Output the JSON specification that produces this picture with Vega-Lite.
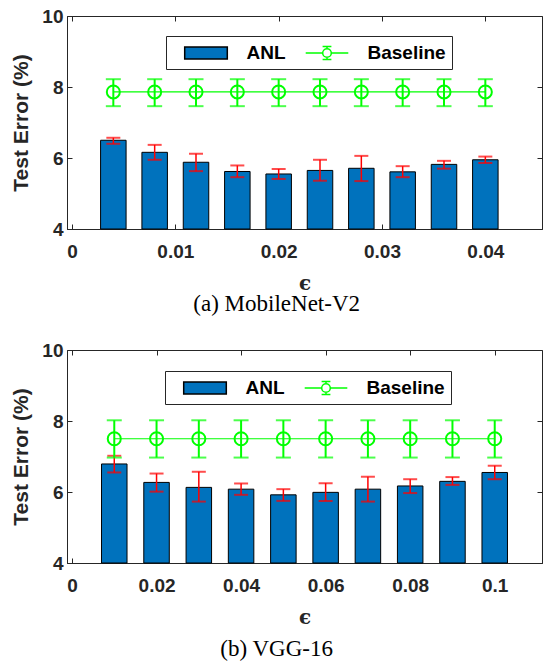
{
  "$schema": "https://vega.github.io/schema/vega-lite/v6.json",
  "padding": {"top": 6, "left": 10, "right": 0, "bottom": 0},
  "spacing": 23,
  "resolve": {"scale": {"fill": "independent", "stroke": "independent", "shape": "independent"}, "legend": {"fill": "independent", "stroke": "independent", "shape": "independent"}},
  "config": {
    "view": {"stroke": "#262626", "strokeWidth": 1},
    "axis": {"grid": false, "labelFont": "Liberation Sans", "labelFontWeight": "bold", "labelFontSize": 19, "labelColor": "#262626", "domainColor": "#262626", "tickColor": "#262626", "titleFont": "Liberation Sans", "titleFontWeight": "bold", "titleFontSize": 21, "titleColor": "#262626", "labelFlush": false, "labelOverlap": false},
    "legend": {"title": null, "orient": "none", "direction": "horizontal", "strokeColor": "#262626", "fillColor": "#FFFFFF", "padding": 6, "symbolSize": 400, "symbolOffset": 23, "labelOffset": 29.5, "columnPadding": 7, "symbolStrokeWidth": 1.5, "symbolOpacity": 1, "labelFont": "Liberation Sans", "labelFontWeight": "bold", "labelFontSize": 19, "labelColor": "#000000"},
    "title": {"font": "Liberation Serif", "fontSize": 23, "fontWeight": "normal", "color": "#000000", "orient": "bottom", "anchor": "middle", "frame": "bounds"}
  },
  "datasets": {
    "mobilenet": [
      {"eps": 0.004, "anl": 6.50, "anl_lo": 6.40, "anl_hi": 6.57, "base": 7.86, "base_lo": 7.46, "base_hi": 8.22, "series": "ANL"},
      {"eps": 0.008, "anl": 6.16, "anl_lo": 5.95, "anl_hi": 6.37, "base": 7.86, "base_lo": 7.46, "base_hi": 8.22, "series": "ANL"},
      {"eps": 0.012, "anl": 5.88, "anl_lo": 5.63, "anl_hi": 6.12, "base": 7.86, "base_lo": 7.46, "base_hi": 8.22, "series": "ANL"},
      {"eps": 0.016, "anl": 5.62, "anl_lo": 5.46, "anl_hi": 5.79, "base": 7.86, "base_lo": 7.46, "base_hi": 8.22, "series": "ANL"},
      {"eps": 0.020, "anl": 5.55, "anl_lo": 5.41, "anl_hi": 5.69, "base": 7.86, "base_lo": 7.46, "base_hi": 8.22, "series": "ANL"},
      {"eps": 0.024, "anl": 5.65, "anl_lo": 5.36, "anl_hi": 5.95, "base": 7.86, "base_lo": 7.46, "base_hi": 8.22, "series": "ANL"},
      {"eps": 0.028, "anl": 5.71, "anl_lo": 5.35, "anl_hi": 6.06, "base": 7.86, "base_lo": 7.46, "base_hi": 8.22, "series": "ANL"},
      {"eps": 0.032, "anl": 5.61, "anl_lo": 5.46, "anl_hi": 5.77, "base": 7.86, "base_lo": 7.46, "base_hi": 8.22, "series": "ANL"},
      {"eps": 0.036, "anl": 5.82, "anl_lo": 5.70, "anl_hi": 5.92, "base": 7.86, "base_lo": 7.46, "base_hi": 8.22, "series": "ANL"},
      {"eps": 0.040, "anl": 5.95, "anl_lo": 5.86, "anl_hi": 6.04, "base": 7.86, "base_lo": 7.46, "base_hi": 8.22, "series": "ANL"}
    ],
    "vgg": [
      {"eps": 0.01, "anl": 6.79, "anl_lo": 6.55, "anl_hi": 7.02, "base": 7.50, "base_lo": 6.97, "base_hi": 8.02, "series": "ANL"},
      {"eps": 0.02, "anl": 6.27, "anl_lo": 6.01, "anl_hi": 6.52, "base": 7.50, "base_lo": 6.97, "base_hi": 8.02, "series": "ANL"},
      {"eps": 0.03, "anl": 6.13, "anl_lo": 5.73, "anl_hi": 6.57, "base": 7.50, "base_lo": 6.97, "base_hi": 8.02, "series": "ANL"},
      {"eps": 0.04, "anl": 6.08, "anl_lo": 5.92, "anl_hi": 6.24, "base": 7.50, "base_lo": 6.97, "base_hi": 8.02, "series": "ANL"},
      {"eps": 0.05, "anl": 5.92, "anl_lo": 5.75, "anl_hi": 6.08, "base": 7.50, "base_lo": 6.97, "base_hi": 8.02, "series": "ANL"},
      {"eps": 0.06, "anl": 5.99, "anl_lo": 5.75, "anl_hi": 6.25, "base": 7.50, "base_lo": 6.97, "base_hi": 8.02, "series": "ANL"},
      {"eps": 0.07, "anl": 6.08, "anl_lo": 5.73, "anl_hi": 6.43, "base": 7.50, "base_lo": 6.97, "base_hi": 8.02, "series": "ANL"},
      {"eps": 0.08, "anl": 6.17, "anl_lo": 5.97, "anl_hi": 6.36, "base": 7.50, "base_lo": 6.97, "base_hi": 8.02, "series": "ANL"},
      {"eps": 0.09, "anl": 6.30, "anl_lo": 6.20, "anl_hi": 6.42, "base": 7.50, "base_lo": 6.97, "base_hi": 8.02, "series": "ANL"},
      {"eps": 0.10, "anl": 6.55, "anl_lo": 6.36, "anl_hi": 6.74, "base": 7.50, "base_lo": 6.97, "base_hi": 8.02, "series": "ANL"}
    ]
  },
  "vconcat": [
    {
      "width": 475, "height": 213,
      "data": {"name": "mobilenet"},
      "title": {"text": "(a)  MobileNet-V2", "offset": 0},
      "resolve": {"axis": {"x": "independent", "y": "independent"}},
      "layer": [
        {
          "mark": {"type": "bar", "size": 25.5, "strokeWidth": 1, "opacity": 1},
          "encoding": {
            "x": {"field": "eps", "type": "quantitative", "scale": {"domain": [0, 0.045], "nice": false, "zero": false},
                  "axis": {"orient": "bottom", "values": [0, 0.01, 0.02, 0.03, 0.04], "format": "~g", "tickSize": -5, "labelPadding": 18, "title": "ϵ", "titleFont": "DejaVu Serif", "titleFontSize": 20, "titlePadding": 12}},
            "y": {"field": "anl", "type": "quantitative", "scale": {"domain": [4, 10], "nice": false, "zero": false},
                  "axis": {"orient": "left", "values": [4, 6, 8, 10], "tickSize": -5, "labelPadding": 9, "title": "Test Error (%)", "titlePadding": 10}},
            "y2": {"datum": 4},
            "fill": {"field": "series", "type": "nominal", "scale": {"domain": ["ANL", "Baseline"], "range": ["#0072BD", "transparent"]}, "legend": {"legendX": 99, "legendY": 20}},
            "stroke": {"field": "series", "type": "nominal", "scale": {"domain": ["ANL", "Baseline"], "range": ["#000000", "#00FF00"]}, "legend": {"legendX": 99, "legendY": 20}}
          }
        },
        {
          "mark": {"type": "point", "opacity": 0},
          "encoding": {
            "x": {"field": "eps", "type": "quantitative", "axis": null},
            "y": {"field": "anl", "type": "quantitative", "axis": null},
            "shape": {"field": "series", "type": "nominal", "scale": {"domain": ["ANL", "Baseline"], "range": ["M-2.13,-0.6H2.13V0.6H-2.13Z", "M-2.13,0H-0.43M0.43,0H2.13M0,-0.43V-0.64M0,0.43V0.64M-0.44,-0.64H0.44M-0.44,0.64H0.44M0.43,0A0.43,0.43 0 1,1 -0.43,0A0.43,0.43 0 1,1 0.43,0"]}, "legend": {"legendX": 99, "legendY": 20}}
          }
        },
        {
          "mark": {"type": "errorbar", "color": "#FF0000", "thickness": 1.5, "ticks": {"size": 14, "thickness": 2}},
          "encoding": {
            "x": {"field": "eps", "type": "quantitative", "axis": null},
            "y": {"field": "anl_lo", "type": "quantitative", "axis": null},
            "y2": {"field": "anl_hi"}
          }
        },
        {
          "mark": {"type": "line", "color": "#00FF00", "strokeWidth": 1.2},
          "encoding": {
            "x": {"field": "eps", "type": "quantitative", "axis": {"orient": "top", "values": [0, 0.01, 0.02, 0.03, 0.04], "labels": false, "domain": false, "tickSize": -5, "title": null}},
            "y": {"field": "base", "type": "quantitative", "axis": {"orient": "right", "values": [4, 6, 8, 10], "labels": false, "domain": false, "tickSize": -5, "title": null}}
          }
        },
        {
          "mark": {"type": "errorbar", "color": "#00FF00", "thickness": 2, "ticks": {"size": 15, "thickness": 2}},
          "encoding": {
            "x": {"field": "eps", "type": "quantitative", "axis": null},
            "y": {"field": "base_lo", "type": "quantitative", "axis": null},
            "y2": {"field": "base_hi"}
          }
        },
        {
          "mark": {"type": "point", "shape": "circle", "filled": false, "color": "#00FF00", "size": 170, "strokeWidth": 2, "opacity": 1},
          "encoding": {
            "x": {"field": "eps", "type": "quantitative", "axis": null},
            "y": {"field": "base", "type": "quantitative", "axis": null}
          }
        }
      ]
    },
    {
      "width": 475, "height": 213,
      "data": {"name": "vgg"},
      "title": {"text": "(b)  VGG-16", "offset": 11},
      "resolve": {"axis": {"x": "independent", "y": "independent"}},
      "layer": [
        {
          "mark": {"type": "bar", "size": 25.5, "strokeWidth": 1, "opacity": 1},
          "encoding": {
            "x": {"field": "eps", "type": "quantitative", "scale": {"domain": [0, 0.11], "nice": false, "zero": false},
                  "axis": {"orient": "bottom", "values": [0, 0.02, 0.04, 0.06, 0.08, 0.1], "format": "~g", "tickSize": -5, "labelPadding": 18, "title": "ϵ", "titleFont": "DejaVu Serif", "titleFontSize": 20, "titlePadding": 12}},
            "y": {"field": "anl", "type": "quantitative", "scale": {"domain": [4, 10], "nice": false, "zero": false},
                  "axis": {"orient": "left", "values": [4, 6, 8, 10], "tickSize": -5, "labelPadding": 9, "title": "Test Error (%)", "titlePadding": 10}},
            "y2": {"datum": 4},
            "fill": {"field": "series", "type": "nominal", "scale": {"domain": ["ANL", "Baseline"], "range": ["#0072BD", "transparent"]}, "legend": {"legendX": 98, "legendY": 21}},
            "stroke": {"field": "series", "type": "nominal", "scale": {"domain": ["ANL", "Baseline"], "range": ["#000000", "#00FF00"]}, "legend": {"legendX": 98, "legendY": 21}}
          }
        },
        {
          "mark": {"type": "point", "opacity": 0},
          "encoding": {
            "x": {"field": "eps", "type": "quantitative", "axis": null},
            "y": {"field": "anl", "type": "quantitative", "axis": null},
            "shape": {"field": "series", "type": "nominal", "scale": {"domain": ["ANL", "Baseline"], "range": ["M-2.13,-0.6H2.13V0.6H-2.13Z", "M-2.13,0H-0.43M0.43,0H2.13M0,-0.43V-0.64M0,0.43V0.64M-0.44,-0.64H0.44M-0.44,0.64H0.44M0.43,0A0.43,0.43 0 1,1 -0.43,0A0.43,0.43 0 1,1 0.43,0"]}, "legend": {"legendX": 98, "legendY": 21}}
          }
        },
        {
          "mark": {"type": "errorbar", "color": "#FF0000", "thickness": 1.5, "ticks": {"size": 14, "thickness": 2}},
          "encoding": {
            "x": {"field": "eps", "type": "quantitative", "axis": null},
            "y": {"field": "anl_lo", "type": "quantitative", "axis": null},
            "y2": {"field": "anl_hi"}
          }
        },
        {
          "mark": {"type": "line", "color": "#00FF00", "strokeWidth": 1.2},
          "encoding": {
            "x": {"field": "eps", "type": "quantitative", "axis": {"orient": "top", "values": [0, 0.02, 0.04, 0.06, 0.08, 0.1], "labels": false, "domain": false, "tickSize": -5, "title": null}},
            "y": {"field": "base", "type": "quantitative", "axis": {"orient": "right", "values": [4, 6, 8, 10], "labels": false, "domain": false, "tickSize": -5, "title": null}}
          }
        },
        {
          "mark": {"type": "errorbar", "color": "#00FF00", "thickness": 2, "ticks": {"size": 15, "thickness": 2}},
          "encoding": {
            "x": {"field": "eps", "type": "quantitative", "axis": null},
            "y": {"field": "base_lo", "type": "quantitative", "axis": null},
            "y2": {"field": "base_hi"}
          }
        },
        {
          "mark": {"type": "point", "shape": "circle", "filled": false, "color": "#00FF00", "size": 170, "strokeWidth": 2, "opacity": 1},
          "encoding": {
            "x": {"field": "eps", "type": "quantitative", "axis": null},
            "y": {"field": "base", "type": "quantitative", "axis": null}
          }
        }
      ]
    }
  ]
}
